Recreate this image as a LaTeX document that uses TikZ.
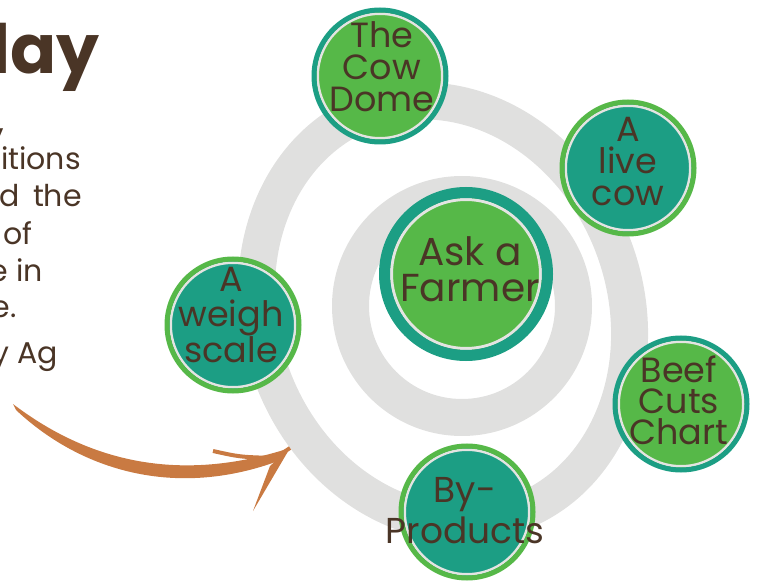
\documentclass[tikz,border=0pt]{standalone}
\usepackage{fontspec}
\setmainfont{Poppins}
\definecolor{cowteal}{RGB}{28,158,132}
\definecolor{cowgreen}{RGB}{86,184,72}
\definecolor{cowbrown}{RGB}{74,53,38}
\definecolor{ringgrey}{RGB}{224,224,223}
\definecolor{paleline}{RGB}{228,228,226}
\definecolor{brushorange}{RGB}{201,122,66}

\begin{document}
\begin{tikzpicture}[x=1pt,y=-1pt]
\tikzstyle{spot}=[circle,inner sep=0pt,minimum size=132pt,line width=5pt]
\tikzstyle{greenspot}=[spot,fill=cowgreen,draw=cowteal,
  path picture={\draw[paleline,line width=2.5pt] (path picture bounding box.center) circle (62.25pt);}]
\tikzstyle{tealspot}=[spot,fill=cowteal,draw=cowgreen,
  path picture={\draw[paleline,line width=2.5pt] (path picture bounding box.center) circle (62.25pt);}]
\tikzstyle{hub}=[circle,inner sep=0pt,minimum size=163pt,line width=11pt,fill=cowgreen,draw=cowteal,
  path picture={\draw[paleline,line width=3pt] (path picture bounding box.center) circle (74.5pt);}]
\tikzstyle{spottext}=[align=center,text=cowbrown,inner sep=0pt]
\tikzstyle{sidetext}=[anchor=base east,text=cowbrown,inner sep=0pt,font=\fontsize{30}{34}\selectfont]
\useasboundingbox (0,0) rectangle (758,585);

% grey rings
\fill[ringgrey,even odd rule,rotate around={20:(443,312)}] (443,312) ellipse (201pt and 233pt) (443,312) ellipse (164pt and 196pt);
\fill[ringgrey,even odd rule] (462,306) circle (130pt) (462,306) circle (93pt);

% cut-off text on the left
\node[anchor=base east,text=cowbrown,inner sep=0pt,font=\fontsize{68}{70}\bfseries\selectfont] (title) at (100,74) {lay};
\node[sidetext] (lineA) at (5,133) {,};
\node[sidetext] (lineB) at (81,170) {itions};
\node[sidetext] (lineC) at (82,207) {d\hspace{13pt}the};
\node[sidetext] (lineD) at (33,245) {of};
\node[sidetext] (lineE) at (43,282) {e in};
\node[sidetext] (lineF) at (17,318) {e.};
\node[sidetext] (lineG) at (58,363) {y Ag};

% brush arrow
\coordinate (brushstart) at (13,404);
\coordinate (brushtip) at (290,448);
\fill[brushorange] (brushstart) .. controls (80,455) and (170,487) .. (brushtip)
  -- (281,460) .. controls (175,500) and (80,470) .. (16,410) -- cycle;
\fill[brushorange] (brushtip) -- (253,511) -- (270,466) -- cycle;
\draw[brushorange,line width=4pt] (213,451) .. controls (240,457) .. (275,458) -- (brushtip);

% circles
\node[hub] (farmer) at (466,274) {};
\node[greenspot] (dome) at (380,76) {};
\node[tealspot] (livecow) at (628,168) {};
\node[greenspot] (cuts) at (681,404) {};
\node[tealspot] (byprod) at (467,512) {};
\node[tealspot] (scale) at (233,325) {};

\node[spottext,font=\fontsize{39}{36}\selectfont] (farmertext) at (470,269) {Ask a\\Farmer};
\node[spottext,font=\fontsize{35}{32}\selectfont] (dometext) at (382,67) {The\\Cow\\Dome};
\node[spottext,font=\fontsize{35}{32}\selectfont] (livecowtext) at (628,162) {A\\live\\cow};
\node[spottext,font=\fontsize{35}{31}\selectfont] (cutstext) at (679,400) {Beef\\Cuts\\Chart};
\node[spottext,font=\fontsize{36}{41}\selectfont] (byprodtext) at (465,511) {By-\\Products};
\node[spottext,font=\fontsize{35}{35}\selectfont] (scaletext) at (231,315) {A\\weigh\\scale};
\end{tikzpicture}
\end{document}
